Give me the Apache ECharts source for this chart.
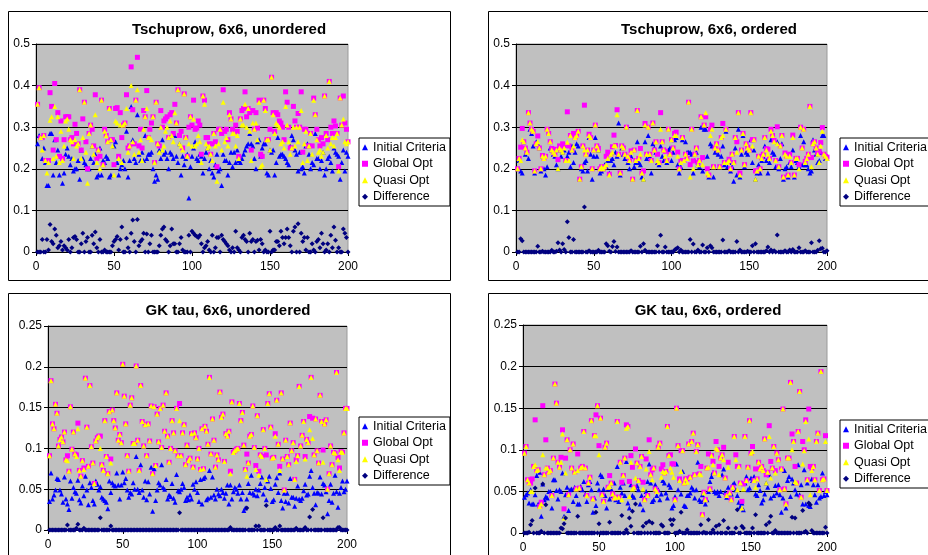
<!DOCTYPE html>
<html>
<head>
<meta charset="utf-8">
<script src="https://cdn.jsdelivr.net/npm/echarts@6/dist/echarts.min.js"></script>
<style>
html,body{margin:0;padding:0;background:#fff;}
#chart{width:928px;height:555px;}
</style>
</head>
<body>
<div id="chart"></div>
<script>
// ---------- DATA ----------
const seriesNames = ['Initial Criteria', 'Global Opt', 'Quasi Opt', 'Difference'];
const panelTitles = ['Tschuprow, 6x6, unordered', 'Tschuprow, 6x6, ordered', 'GK tau, 6x6, unordered', 'GK tau, 6x6, ordered'];
const xTicks = [0, 50, 100, 150, 200];
const yTicksTschuprow = [0, 0.1, 0.2, 0.3, 0.4, 0.5];
const yTicksGK = [0, 0.05, 0.1, 0.15, 0.2, 0.25];

// Tschuprow, unordered
const tuInitial = [
0.26,0.28,0.275,0.225,0.25,0.215,0.16,0.16,0.285,0.285,0.185,0.27,0.215,0.245,0.185,0.23,0.165,0.19,0.235,0.25,
0.23,0.21,0.225,0.195,0.2,0.2,0.22,0.175,0.245,0.225,0.215,0.21,0.2,0.2,0.225,0.255,0.215,0.235,0.18,0.185,
0.25,0.185,0.22,0.215,0.23,0.225,0.18,0.185,0.27,0.255,0.265,0.215,0.185,0.2,0.21,0.22,0.2,0.29,0.18,0.22,
0.35,0.27,0.225,0.215,0.33,0.235,0.22,0.24,0.22,0.28,0.225,0.235,0.235,0.24,0.2,0.17,0.185,0.175,0.245,0.225,
0.27,0.235,0.24,0.225,0.2,0.24,0.235,0.225,0.28,0.23,0.215,0.26,0.185,0.23,0.21,0.225,0.235,0.13,0.205,0.23,
0.25,0.265,0.225,0.22,0.235,0.23,0.19,0.225,0.24,0.25,0.2,0.22,0.19,0.18,0.21,0.235,0.195,0.2,0.16,0.235,
0.22,0.22,0.185,0.215,0.24,0.205,0.24,0.215,0.245,0.22,0.215,0.225,0.235,0.245,0.255,0.26,0.285,0.26,0.255,0.225,
0.2,0.265,0.27,0.23,0.25,0.26,0.26,0.19,0.185,0.245,0.24,0.245,0.185,0.215,0.275,0.23,0.235,0.235,0.23,0.225,
0.215,0.21,0.255,0.28,0.27,0.245,0.235,0.195,0.24,0.2,0.205,0.19,0.255,0.26,0.235,0.2,0.215,0.21,0.285,0.225,
0.225,0.2,0.22,0.24,0.185,0.2,0.225,0.23,0.215,0.195,0.25,0.24,0.235,0.23,0.175,0.215,0.245,0.195,0.24,0.23];
const tuGlobal = [
0.355,0.395,0.275,0.275,0.28,0.22,0.22,0.22,0.383,0.35,0.245,0.405,0.27,0.335,0.23,0.315,0.225,0.27,0.325,0.325,
0.325,0.27,0.275,0.26,0.307,0.285,0.26,0.39,0.245,0.32,0.36,0.265,0.2,0.285,0.305,0.295,0.255,0.378,0.225,0.245,
0.23,0.365,0.21,0.295,0.28,0.265,0.345,0.27,0.27,0.21,0.345,0.347,0.23,0.335,0.275,0.305,0.31,0.378,0.25,0.255,
0.445,0.342,0.26,0.365,0.468,0.255,0.295,0.25,0.34,0.325,0.388,0.275,0.295,0.31,0.325,0.215,0.36,0.26,0.255,0.34,
0.3,0.315,0.32,0.325,0.275,0.33,0.335,0.285,0.355,0.31,0.39,0.28,0.29,0.25,0.38,0.275,0.23,0.3,0.325,0.305,
0.365,0.295,0.298,0.315,0.305,0.235,0.375,0.365,0.275,0.275,0.26,0.235,0.26,0.285,0.265,0.205,0.295,0.295,0.285,0.39,
0.29,0.295,0.27,0.335,0.32,0.295,0.285,0.305,0.29,0.23,0.32,0.34,0.345,0.385,0.325,0.345,0.335,0.245,0.34,0.295,
0.335,0.298,0.365,0.235,0.23,0.365,0.345,0.27,0.27,0.295,0.42,0.335,0.29,0.335,0.33,0.315,0.31,0.3,0.27,0.385,
0.36,0.3,0.25,0.25,0.35,0.315,0.3,0.333,0.3,0.385,0.24,0.295,0.295,0.255,0.255,0.285,0.255,0.37,0.33,0.295,
0.27,0.255,0.275,0.26,0.375,0.285,0.27,0.41,0.3,0.285,0.315,0.303,0.285,0.205,0.37,0.305,0.375,0.31,0.295,0.265];
const tuQuasi = [
0.355,0.395,0.275,0.245,0.28,0.22,0.19,0.215,0.317,0.325,0.225,0.35,0.23,0.325,0.215,0.29,0.22,0.255,0.315,0.32,
0.295,0.27,0.265,0.225,0.27,0.255,0.26,0.39,0.225,0.275,0.36,0.24,0.165,0.285,0.305,0.255,0.235,0.33,0.215,0.245,
0.2,0.365,0.21,0.29,0.28,0.265,0.345,0.27,0.255,0.185,0.315,0.31,0.225,0.305,0.215,0.305,0.31,0.345,0.24,0.255,
0.4,0.265,0.235,0.365,0.39,0.24,0.27,0.22,0.295,0.325,0.345,0.275,0.275,0.27,0.325,0.215,0.36,0.26,0.24,0.3,
0.245,0.255,0.29,0.3,0.275,0.315,0.28,0.265,0.335,0.31,0.39,0.26,0.255,0.245,0.38,0.275,0.23,0.26,0.325,0.255,
0.32,0.255,0.26,0.28,0.265,0.215,0.375,0.355,0.26,0.25,0.255,0.235,0.22,0.285,0.255,0.17,0.26,0.295,0.245,0.36,
0.265,0.275,0.255,0.33,0.32,0.285,0.285,0.255,0.28,0.225,0.32,0.305,0.305,0.355,0.3,0.345,0.29,0.22,0.31,0.295,
0.31,0.27,0.36,0.205,0.21,0.365,0.34,0.27,0.27,0.245,0.42,0.33,0.285,0.31,0.305,0.3,0.26,0.265,0.25,0.35,
0.305,0.265,0.235,0.25,0.3,0.255,0.3,0.265,0.3,0.34,0.215,0.26,0.29,0.22,0.255,0.285,0.235,0.365,0.33,0.27,
0.24,0.245,0.23,0.24,0.375,0.28,0.25,0.41,0.26,0.275,0.255,0.275,0.285,0.195,0.37,0.305,0.32,0.265,0.26,0.265];
const tuDiff = [
0,0,0,0.03,0,0,0.03,0.005,0.066,0.025,0.02,0.055,0.04,0.01,0.015,0.025,0.005,0.015,0.01,0.005,
0.03,0,0.01,0.035,0.037,0.03,0,0,0.02,0.045,0,0.025,0.035,0,0,0.04,0.02,0.048,0.01,0,
0.03,0,0,0.005,0,0,0,0,0.015,0.025,0.03,0.037,0.005,0.03,0.06,0,0,0.033,0.01,0,
0.045,0.077,0.025,0,0.078,0.015,0.025,0.03,0.045,0,0.043,0,0.02,0.04,0,0,0,0,0.015,0.04,
0.055,0.06,0.03,0.025,0,0.015,0.055,0.02,0.02,0,0,0.02,0.035,0.005,0,0,0,0.04,0,0.05,
0.045,0.04,0.038,0.035,0.04,0.02,0,0.01,0.015,0.025,0.005,0,0.04,0,0.01,0.035,0.035,0,0.04,0.03,
0.025,0.02,0.015,0.005,0,0.01,0,0.05,0.01,0.005,0,0.035,0.04,0.03,0.025,0,0.045,0.025,0.03,0,
0.025,0.028,0.005,0.03,0.02,0,0.005,0,0,0.05,0,0.005,0.005,0.025,0.025,0.015,0.05,0.035,0.02,0.035,
0.055,0.035,0.015,0,0.05,0.06,0,0.068,0,0.045,0.025,0.035,0.005,0.035,0,0,0.02,0.005,0,0.025,
0.03,0.01,0.045,0.02,0,0.005,0.02,0,0.04,0.01,0.06,0.028,0,0.01,0,0,0.055,0.045,0.035,0];

// Tschuprow, ordered
const toInitial = [
0.2,0.22,0.195,0.19,0.265,0.235,0.245,0.225,0.295,0.285,0.255,0.19,0.265,0.26,0.25,0.195,0.23,0.2,0.185,0.205,
0.285,0.25,0.245,0.235,0.23,0.21,0.2,0.245,0.23,0.24,0.245,0.22,0.23,0.24,0.205,0.255,0.215,0.24,0.26,0.255,
0.175,0.2,0.195,0.215,0.22,0.195,0.275,0.235,0.175,0.23,0.275,0.23,0.245,0.19,0.195,0.2,0.21,0.205,0.22,0.19,
0.22,0.225,0.21,0.24,0.23,0.31,0.185,0.25,0.235,0.225,0.3,0.215,0.2,0.23,0.175,0.205,0.215,0.265,0.215,0.21,
0.18,0.175,0.265,0.225,0.28,0.23,0.19,0.26,0.25,0.24,0.215,0.21,0.255,0.23,0.22,0.245,0.215,0.245,0.25,0.22,
0.24,0.27,0.275,0.21,0.19,0.205,0.27,0.22,0.265,0.24,0.24,0.24,0.235,0.19,0.22,0.24,0.21,0.205,0.3,0.195,
0.295,0.295,0.23,0.18,0.26,0.255,0.18,0.24,0.245,0.235,0.205,0.23,0.255,0.21,0.29,0.205,0.215,0.195,0.205,0.17,
0.25,0.185,0.295,0.18,0.235,0.28,0.205,0.24,0.235,0.25,0.27,0.215,0.245,0.175,0.19,0.21,0.19,0.22,0.23,0.255,
0.22,0.19,0.215,0.27,0.24,0.235,0.205,0.265,0.2,0.225,0.26,0.175,0.2,0.205,0.18,0.215,0.205,0.245,0.18,0.22,
0.215,0.205,0.28,0.21,0.265,0.21,0.21,0.2,0.19,0.195,0.27,0.245,0.235,0.215,0.22,0.24,0.28,0.28,0.225,0.225];
const toGlobal = [
0.2,0.225,0.252,0.297,0.265,0.25,0.24,0.335,0.31,0.295,0.29,0.195,0.26,0.279,0.25,0.2,0.232,0.225,0.23,0.295,
0.285,0.265,0.249,0.24,0.235,0.247,0.222,0.255,0.245,0.26,0.256,0.22,0.337,0.255,0.28,0.245,0.285,0.275,0.28,0.29,
0.175,0.205,0.255,0.353,0.235,0.245,0.283,0.275,0.2,0.245,0.305,0.255,0.249,0.2,0.205,0.2,0.205,0.23,0.24,0.187,
0.235,0.253,0.281,0.256,0.342,0.235,0.19,0.255,0.25,0.235,0.3,0.23,0.22,0.243,0.175,0.245,0.22,0.34,0.225,0.249,
0.19,0.195,0.309,0.235,0.3,0.235,0.22,0.31,0.245,0.265,0.235,0.215,0.335,0.265,0.245,0.242,0.22,0.295,0.235,0.27,
0.25,0.285,0.288,0.24,0.2,0.22,0.275,0.22,0.235,0.225,0.36,0.21,0.295,0.219,0.235,0.25,0.215,0.22,0.325,0.227,
0.305,0.325,0.2,0.185,0.295,0.305,0.205,0.25,0.26,0.245,0.205,0.275,0.309,0.215,0.295,0.215,0.223,0.2,0.235,0.215,
0.275,0.265,0.335,0.19,0.245,0.285,0.21,0.26,0.252,0.245,0.335,0.27,0.27,0.195,0.195,0.23,0.2,0.225,0.235,0.275,
0.248,0.247,0.225,0.295,0.28,0.268,0.22,0.301,0.205,0.255,0.28,0.18,0.238,0.23,0.185,0.235,0.215,0.281,0.185,0.225,
0.225,0.21,0.3,0.25,0.295,0.218,0.225,0.235,0.35,0.227,0.26,0.265,0.25,0.239,0.242,0.263,0.299,0.235,0.23,0.228];
const toQuasi = [
0.2,0.225,0.22,0.27,0.265,0.25,0.24,0.335,0.31,0.295,0.29,0.195,0.26,0.265,0.25,0.2,0.23,0.225,0.23,0.295,
0.285,0.265,0.245,0.24,0.235,0.245,0.2,0.25,0.245,0.24,0.25,0.22,0.264,0.22,0.28,0.245,0.255,0.275,0.28,0.29,
0.175,0.205,0.255,0.245,0.235,0.245,0.28,0.275,0.2,0.245,0.305,0.255,0.245,0.2,0.205,0.2,0.205,0.21,0.225,0.185,
0.235,0.24,0.256,0.255,0.33,0.235,0.19,0.255,0.25,0.235,0.3,0.23,0.22,0.24,0.175,0.245,0.22,0.34,0.225,0.235,
0.19,0.175,0.305,0.235,0.3,0.235,0.22,0.31,0.245,0.265,0.22,0.215,0.295,0.265,0.245,0.23,0.22,0.295,0.235,0.27,
0.25,0.28,0.28,0.23,0.2,0.215,0.275,0.22,0.235,0.225,0.36,0.18,0.295,0.2,0.235,0.25,0.21,0.22,0.325,0.21,
0.305,0.335,0.19,0.185,0.28,0.295,0.205,0.25,0.26,0.245,0.205,0.275,0.28,0.215,0.295,0.215,0.22,0.2,0.235,0.215,
0.275,0.24,0.335,0.185,0.245,0.285,0.21,0.26,0.25,0.245,0.335,0.255,0.27,0.175,0.195,0.23,0.2,0.225,0.235,0.275,
0.245,0.235,0.225,0.29,0.28,0.265,0.22,0.26,0.205,0.255,0.28,0.18,0.235,0.23,0.185,0.23,0.215,0.275,0.185,0.225,
0.225,0.2,0.3,0.25,0.295,0.215,0.225,0.235,0.35,0.205,0.26,0.265,0.25,0.235,0.215,0.255,0.29,0.235,0.23,0.225];
const toDiff = [
0,0,0.032,0.027,0,0,0,0,0,0,0,0,0,0.014,0,0,0.002,0,0,0,
0,0,0.004,0,0,0.002,0.022,0.005,0,0.02,0.006,0,0.073,0.035,0,0,0.03,0,0,0,
0,0,0,0.108,0,0,0.003,0,0,0,0,0,0.004,0,0,0,0,0.02,0.015,0.002,
0,0.013,0.025,0.001,0.012,0,0,0,0,0,0,0,0,0.003,0,0,0,0,0,0.014,
0,0.02,0.004,0,0,0,0,0,0,0,0.015,0,0.04,0,0,0.012,0,0,0,0,
0,0.005,0.008,0.01,0,0.005,0,0,0,0,0,0.03,0,0.019,0,0,0.005,0,0,0.017,
0,0,0.01,0,0.015,0.01,0,0,0,0,0,0,0.029,0,0,0,0.003,0,0,0,
0,0.025,0,0.005,0,0,0,0,0.002,0,0,0.015,0,0.02,0,0,0,0,0,0,
0.003,0.012,0,0.005,0,0.003,0,0.041,0,0,0,0,0.003,0,0,0.005,0,0.006,0,0,
0,0.01,0,0,0,0.003,0,0,0,0.022,0,0,0,0.004,0.027,0.008,0.009,0,0,0.003];

// GK tau, unordered
const guInitial = [
0.035,0.07,0.038,0.043,0.049,0.063,0.062,0.049,0.044,0.034,0.065,0.038,0.032,0.025,0.06,0.039,0.052,0.047,0.045,0.061,
0.037,0.033,0.054,0.042,0.066,0.049,0.031,0.058,0.052,0.036,0.032,0.06,0.056,0.049,0.053,0.04,0.038,0.036,0.034,0.026,
0.06,0.046,0.058,0.055,0.054,0.07,0.055,0.038,0.055,0.071,0.058,0.063,0.049,0.04,0.046,0.044,0.058,0.05,0.09,0.05,
0.046,0.08,0.049,0.04,0.06,0.037,0.059,0.044,0.077,0.023,0.075,0.036,0.049,0.058,0.055,0.08,0.052,0.05,0.062,0.038,
0.043,0.041,0.057,0.039,0.034,0.068,0.048,0.047,0.05,0.057,0.052,0.036,0.04,0.037,0.043,0.038,0.056,0.05,0.059,0.046,
0.035,0.062,0.032,0.063,0.065,0.037,0.039,0.073,0.04,0.065,0.043,0.038,0.05,0.044,0.042,0.05,0.046,0.039,0.045,0.055,
0.032,0.055,0.038,0.047,0.052,0.05,0.045,0.055,0.038,0.046,0.024,0.027,0.038,0.057,0.046,0.067,0.045,0.043,0.05,0.042,
0.049,0.057,0.065,0.044,0.052,0.037,0.06,0.066,0.051,0.035,0.037,0.056,0.064,0.046,0.07,0.036,0.027,0.045,0.035,0.045,
0.033,0.063,0.04,0.04,0.029,0.039,0.054,0.038,0.036,0.039,0.048,0.056,0.043,0.044,0.066,0.073,0.052,0.045,0.031,0.046,
0.045,0.065,0.044,0.057,0.055,0.047,0.02,0.036,0.056,0.034,0.045,0.067,0.047,0.028,0.045,0.052,0.06,0.047,0.05,0.06];
const guGlobal = [
0.091,0.183,0.13,0.124,0.154,0.143,0.103,0.111,0.114,0.108,0.12,0.086,0.091,0.072,0.151,0.099,0.12,0.093,0.092,0.131,
0.073,0.066,0.085,0.076,0.186,0.126,0.078,0.177,0.102,0.082,0.057,0.109,0.113,0.115,0.115,0.08,0.073,0.134,0.09,0.069,
0.145,0.087,0.147,0.134,0.125,0.168,0.11,0.117,0.107,0.203,0.164,0.13,0.091,0.072,0.153,0.162,0.106,0.106,0.201,0.11,
0.073,0.177,0.133,0.103,0.129,0.091,0.13,0.109,0.152,0.069,0.151,0.079,0.142,0.108,0.149,0.101,0.153,0.121,0.168,0.115,
0.083,0.1,0.134,0.119,0.097,0.149,0.091,0.155,0.091,0.119,0.129,0.08,0.104,0.085,0.088,0.118,0.077,0.119,0.113,0.087,
0.1,0.074,0.124,0.075,0.127,0.121,0.105,0.187,0.093,0.136,0.11,0.077,0.092,0.086,0.169,0.138,0.142,0.084,0.118,0.115,
0.121,0.072,0.157,0.095,0.097,0.099,0.1,0.155,0.134,0.144,0.104,0.074,0.093,0.082,0.115,0.117,0.152,0.101,0.079,0.14,
0.072,0.092,0.09,0.123,0.1,0.092,0.155,0.167,0.126,0.088,0.089,0.118,0.159,0.105,0.078,0.168,0.087,0.049,0.11,0.09,
0.08,0.131,0.097,0.107,0.062,0.086,0.091,0.176,0.103,0.116,0.133,0.09,0.111,0.107,0.139,0.187,0.137,0.092,0.136,0.097,
0.082,0.165,0.133,0.098,0.13,0.135,0.05,0.069,0.103,0.08,0.095,0.094,0.193,0.089,0.076,0.096,0.095,0.119,0.149,0.149];
const guQuasi = [
0.091,0.183,0.13,0.124,0.154,0.143,0.103,0.111,0.114,0.108,0.12,0.086,0.085,0.072,0.151,0.099,0.12,0.093,0.09,0.124,
0.073,0.066,0.085,0.074,0.186,0.126,0.078,0.177,0.102,0.082,0.057,0.109,0.113,0.115,0.1,0.08,0.073,0.134,0.09,0.069,
0.145,0.082,0.147,0.134,0.125,0.168,0.11,0.117,0.107,0.203,0.164,0.13,0.091,0.072,0.153,0.162,0.106,0.106,0.201,0.11,
0.073,0.177,0.133,0.103,0.129,0.091,0.13,0.109,0.152,0.069,0.151,0.079,0.142,0.108,0.149,0.101,0.153,0.121,0.168,0.115,
0.083,0.1,0.134,0.119,0.097,0.149,0.091,0.134,0.091,0.119,0.129,0.08,0.104,0.085,0.088,0.118,0.077,0.119,0.113,0.087,
0.1,0.074,0.124,0.075,0.127,0.121,0.105,0.187,0.093,0.136,0.11,0.077,0.092,0.086,0.169,0.138,0.142,0.084,0.118,0.115,
0.121,0.069,0.157,0.095,0.097,0.099,0.1,0.155,0.134,0.144,0.104,0.074,0.066,0.082,0.115,0.117,0.152,0.101,0.074,0.14,
0.067,0.092,0.09,0.123,0.1,0.062,0.155,0.167,0.126,0.088,0.089,0.115,0.159,0.105,0.073,0.168,0.087,0.049,0.11,0.09,
0.08,0.131,0.097,0.107,0.062,0.084,0.091,0.176,0.103,0.116,0.133,0.087,0.111,0.107,0.123,0.187,0.112,0.092,0.136,0.097,
0.082,0.165,0.133,0.083,0.13,0.135,0.05,0.069,0.103,0.08,0.095,0.094,0.193,0.086,0.073,0.096,0.095,0.119,0.149,0.149];
const guDiff = [
0,0,0,0,0,0,0,0,0,0,0,0,0.006,0,0,0,0,0,0.002,0.007,
0,0,0,0.002,0,0,0,0,0,0,0,0,0,0,0.015,0,0,0,0,0,
0,0.005,0,0,0,0,0,0,0,0,0,0,0,0,0,0,0,0,0,0,
0,0,0,0,0,0,0,0,0,0,0,0,0,0,0,0,0,0,0,0,
0,0,0,0,0,0,0,0.021,0,0,0,0,0,0,0,0,0,0,0,0,
0,0,0,0,0,0,0,0,0,0,0,0,0,0,0,0,0,0,0,0,
0,0.003,0,0,0,0,0,0,0,0,0,0,0.027,0,0,0,0,0,0.005,0,
0.005,0,0,0,0,0.03,0,0,0,0,0,0.003,0,0,0.005,0,0,0,0,0,
0,0,0,0,0,0.002,0,0,0,0,0,0.003,0,0,0.016,0,0.025,0,0,0,
0,0,0,0.015,0,0,0,0,0,0,0,0,0,0.003,0.003,0,0,0,0,0];

// GK tau, ordered
const goInitial = [
0.043,0.046,0.048,0.036,0.052,0.035,0.035,0.046,0.069,0.035,0.073,0.02,0.059,0.04,0.044,0.042,0.05,0.05,0.03,0.064,
0.064,0.051,0.041,0.052,0.05,0.072,0.02,0.046,0.055,0.027,0.052,0.053,0.038,0.055,0.045,0.035,0.035,0.056,0.052,0.062,
0.047,0.038,0.058,0.062,0.052,0.025,0.042,0.033,0.06,0.052,0.07,0.068,0.053,0.045,0.03,0.053,0.041,0.053,0.045,0.06,
0.04,0.08,0.038,0.055,0.048,0.06,0.045,0.086,0.036,0.03,0.058,0.045,0.043,0.055,0.057,0.052,0.035,0.045,0.028,0.042,
0.05,0.062,0.083,0.06,0.038,0.04,0.058,0.045,0.052,0.04,0.047,0.063,0.06,0.048,0.042,0.058,0.055,0.03,0.033,0.044,
0.083,0.052,0.063,0.047,0.074,0.033,0.032,0.045,0.045,0.048,0.055,0.052,0.042,0.052,0.085,0.04,0.038,0.046,0.04,0.035,
0.04,0.05,0.062,0.068,0.073,0.05,0.048,0.05,0.045,0.05,0.07,0.077,0.049,0.043,0.055,0.048,0.047,0.058,0.06,0.052,
0.045,0.037,0.032,0.036,0.028,0.06,0.068,0.052,0.054,0.066,0.063,0.068,0.047,0.045,0.058,0.051,0.036,0.04,0.047,0.06,
0.055,0.07,0.042,0.078,0.045,0.057,0.048,0.058,0.046,0.025,0.042,0.075,0.03,0.063,0.068,0.044,0.065,0.06,0.052,0.047,
0.082,0.046,0.058,0.035,0.076,0.035,0.06,0.033,0.032,0.065,0.058,0.046,0.037,0.058,0.042,0.044,0.072,0.045,0.05,0.046];
const goGlobal = [
0.096,0.104,0.064,0.061,0.06,0.065,0.08,0.136,0.075,0.076,0.032,0.037,0.153,0.07,0.112,0.078,0.073,0.075,0.045,0.09,
0.179,0.156,0.085,0.079,0.091,0.124,0.029,0.09,0.112,0.046,0.1,0.078,0.107,0.073,0.053,0.095,0.054,0.078,0.08,0.122,
0.078,0.045,0.06,0.067,0.135,0.041,0.117,0.142,0.153,0.105,0.138,0.046,0.038,0.103,0.108,0.055,0.069,0.06,0.047,0.042,
0.043,0.134,0.043,0.085,0.061,0.069,0.09,0.13,0.128,0.062,0.093,0.079,0.055,0.101,0.084,0.063,0.08,0.092,0.061,0.04,
0.089,0.045,0.112,0.07,0.076,0.078,0.053,0.05,0.103,0.108,0.077,0.082,0.072,0.074,0.128,0.093,0.094,0.083,0.083,0.04,
0.15,0.105,0.065,0.099,0.099,0.06,0.065,0.065,0.107,0.067,0.11,0.12,0.07,0.098,0.106,0.071,0.08,0.022,0.049,0.04,
0.078,0.095,0.053,0.093,0.086,0.072,0.11,0.1,0.08,0.09,0.094,0.103,0.066,0.045,0.085,0.048,0.04,0.055,0.116,0.094,
0.08,0.08,0.06,0.038,0.059,0.116,0.063,0.079,0.135,0.096,0.104,0.063,0.077,0.065,0.085,0.077,0.08,0.075,0.113,0.07,
0.073,0.129,0.086,0.078,0.104,0.075,0.096,0.088,0.052,0.077,0.149,0.053,0.035,0.09,0.09,0.181,0.119,0.11,0.08,0.06,
0.122,0.17,0.043,0.11,0.1,0.136,0.064,0.149,0.08,0.078,0.08,0.064,0.11,0.12,0.051,0.194,0.064,0.065,0.117,0.051];
const goQuasi = [
0.096,0.104,0.064,0.06,0.05,0.05,0.08,0.082,0.075,0.076,0.032,0.035,0.094,0.07,0.078,0.078,0.073,0.075,0.045,0.09,
0.179,0.156,0.085,0.079,0.085,0.119,0.018,0.072,0.112,0.046,0.1,0.078,0.107,0.073,0.053,0.075,0.054,0.078,0.08,0.122,
0.078,0.045,0.06,0.067,0.135,0.041,0.117,0.117,0.153,0.094,0.138,0.046,0.038,0.103,0.108,0.055,0.056,0.06,0.047,0.042,
0.043,0.134,0.043,0.085,0.04,0.069,0.09,0.126,0.128,0.044,0.085,0.053,0.055,0.066,0.084,0.063,0.08,0.092,0.053,0.04,
0.077,0.045,0.098,0.07,0.064,0.078,0.053,0.05,0.103,0.108,0.067,0.074,0.072,0.074,0.128,0.093,0.078,0.073,0.067,0.04,
0.15,0.105,0.063,0.074,0.099,0.06,0.065,0.061,0.107,0.067,0.11,0.12,0.07,0.098,0.106,0.071,0.07,0.022,0.048,0.04,
0.078,0.079,0.053,0.093,0.082,0.072,0.102,0.1,0.07,0.09,0.094,0.088,0.066,0.045,0.079,0.048,0.04,0.055,0.116,0.088,
0.052,0.08,0.06,0.03,0.053,0.116,0.063,0.079,0.135,0.096,0.098,0.063,0.055,0.065,0.085,0.077,0.08,0.075,0.113,0.06,
0.073,0.116,0.066,0.078,0.104,0.072,0.096,0.088,0.052,0.077,0.149,0.053,0.035,0.09,0.09,0.181,0.1,0.11,0.062,0.06,
0.122,0.17,0.043,0.083,0.099,0.134,0.064,0.113,0.046,0.075,0.08,0.064,0.11,0.12,0.051,0.194,0.064,0.065,0.11,0.051];
const goDiff = [
0,0,0,0.001,0.01,0.015,0,0.054,0,0,0,0.002,0.059,0,0.034,0,0,0,0,0,
0,0,0,0,0.006,0.005,0.011,0.018,0,0,0,0,0,0,0,0.02,0,0,0,0,
0,0,0,0,0,0,0,0.025,0,0.011,0,0,0,0,0,0,0.013,0,0,0,
0,0,0,0,0.021,0,0,0.004,0,0.018,0.008,0.026,0,0.035,0,0,0,0,0.008,0,
0.012,0,0.014,0,0.012,0,0,0,0,0,0.01,0.008,0,0,0,0,0.016,0.01,0.016,0,
0,0,0.002,0.025,0,0,0,0.004,0,0,0,0,0,0,0,0,0.01,0,0.001,0,
0,0.016,0,0,0.004,0,0.008,0,0.01,0,0,0.015,0,0,0.006,0,0,0,0,0.006,
0.028,0,0,0.008,0.006,0,0,0,0,0,0.006,0,0.022,0,0,0,0,0,0,0.01,
0,0.013,0.02,0,0,0.003,0,0,0,0,0,0,0,0,0,0,0.019,0,0.018,0,
0,0,0,0.027,0.001,0.002,0,0.036,0.034,0.003,0,0,0,0,0,0,0,0,0.007,0];

const panelData = [
  [tuInitial, tuGlobal, tuQuasi, tuDiff],
  [toInitial, toGlobal, toQuasi, toDiff],
  [guInitial, guGlobal, guQuasi, guDiff],
  [goInitial, goGlobal, goQuasi, goDiff]
];
const panelYTicks = [yTicksTschuprow, yTicksTschuprow, yTicksGK, yTicksGK];

// ---------- STYLE / LAYOUT ----------
const FONT = '"Liberation Sans", Arial, sans-serif';
const markerStyles = [
  {symbol: 'triangle', size: 5, color: '#0000FF'},
  {symbol: 'rect', size: 5, color: '#FF00FF'},
  {symbol: 'triangle', size: 5, color: '#FFFF00'},
  {symbol: 'diamond', size: 5, color: '#000080'}
];
const gridBoxes = [
  {left: 36, top: 44, width: 312, height: 208},
  {left: 516, top: 44, width: 311, height: 208},
  {left: 48, top: 326, width: 299, height: 204},
  {left: 523, top: 325, width: 304, height: 208}
];
const titlePos = [[229, 30], [709, 30], [228, 311], [708, 311]];
const legendPos = [[359, 138], [840, 138], [359, 417], [840, 420]];
const frames = [[8, 11, 442, 269], [488, 11, 460, 269], [8, 293, 442, 280], [488, 293, 460, 280]];

const grid = [], xAxis = [], yAxis = [], series = [], legend = [], graphics = [];

frames.forEach(f => graphics.push({
  type: 'rect', shape: {x: f[0] + 0.5, y: f[1] + 0.5, width: f[2], height: f[3]},
  style: {fill: '#fff', stroke: '#000', lineWidth: 1}, z: -10, silent: true
}));

for (let p = 0; p < 4; p++) {
  const ticks = panelYTicks[p];
  grid.push(Object.assign({show: true, backgroundColor: '#C0C0C0', borderColor: '#9a9a9a', borderWidth: 1}, gridBoxes[p]));
  xAxis.push({
    type: 'value', gridIndex: p, min: xTicks[0], max: xTicks[xTicks.length - 1], interval: xTicks[1] - xTicks[0],
    axisLine: {show: true, onZero: false, lineStyle: {color: '#000', width: 1}},
    axisTick: {show: true, length: 4, lineStyle: {color: '#000'}},
    splitLine: {show: false},
    axisLabel: {color: '#000', fontSize: 12, fontFamily: FONT, margin: 9}
  });
  yAxis.push({
    type: 'value', gridIndex: p, min: ticks[0], max: ticks[ticks.length - 1], interval: ticks[1] - ticks[0],
    axisLine: {show: true, lineStyle: {color: '#000', width: 1}},
    axisTick: {show: true, length: 4, lineStyle: {color: '#000'}},
    splitLine: {show: true, lineStyle: {color: '#000', width: 1}},
    axisLabel: {color: '#000', fontSize: 12, fontFamily: FONT, margin: 6,
      formatter: v => String(+v.toFixed(2))}
  });
  panelData[p].forEach((vals, s) => {
    const st = markerStyles[s];
    series.push({
      type: 'scatter', name: seriesNames[s], xAxisIndex: p, yAxisIndex: p,
      data: vals.map((v, i) => [i + 1, v]),
      symbol: st.symbol, symbolSize: st.size,
      itemStyle: {color: st.color, opacity: 1},
      emphasis: {disabled: true}, animation: false, z: 2 + s
    });
  });
  legend.push({
    orient: 'vertical', left: legendPos[p][0], top: legendPos[p][1],
    data: seriesNames, selectedMode: false,
    backgroundColor: '#fff', borderColor: '#000', borderWidth: 1, borderRadius: 0,
    padding: [1, 4, 1, 3], itemGap: 0, itemWidth: 6, itemHeight: 6,
    textStyle: {color: '#000', fontSize: 12.5, fontFamily: FONT, lineHeight: 16.5}
  });
  graphics.push({
    type: 'text', x: titlePos[p][0], y: titlePos[p][1], z: 10, silent: true,
    style: {text: panelTitles[p], font: 'bold 15px ' + FONT, fill: '#000',
      textAlign: 'center', textVerticalAlign: 'middle', align: 'center', verticalAlign: 'middle'}
  });
}

const chart = echarts.init(document.getElementById('chart'), null, {renderer: 'canvas'});
chart.setOption({
  backgroundColor: '#fff',
  animation: false,
  grid, xAxis, yAxis, series, legend,
  graphic: {elements: graphics}
});
</script>
</body>
</html>
